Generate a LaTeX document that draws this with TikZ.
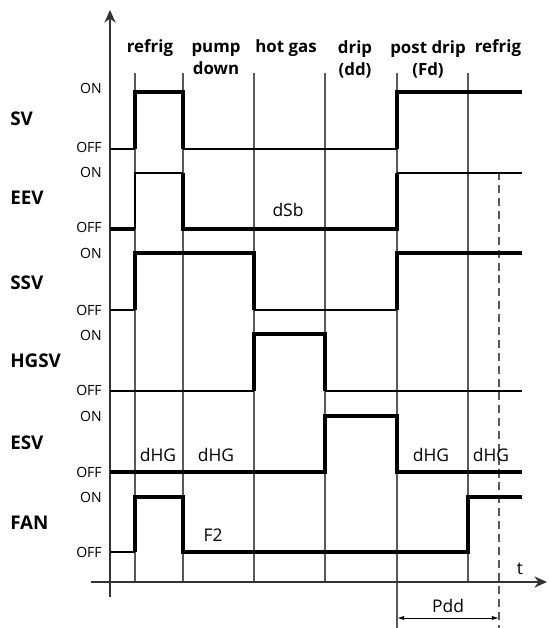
\documentclass[tikz,border=0pt]{standalone}
\usepackage{fontspec}
\setmainfont{Open Sans}
\usetikzlibrary{arrows.meta}

\tikzset{
	siglo/.style={line width=1.3pt},
	sighi/.style={line width=2.2pt},
	phase/.style={line width=0.9pt, black!65},
	axis/.style={line width=1pt, black!80},
	signame/.style={anchor=west, inner sep=0pt, font=\fontsize{13.4}{15}\selectfont\bfseries},
	level/.style={anchor=east, inner sep=0pt, font=\fontsize{10}{11}\selectfont},
	hdr/.style={align=center, inner sep=0pt, font=\fontsize{12}{15.6}\selectfont\bfseries},
	annot/.style={inner sep=0pt, font=\fontsize{12.4}{14}\selectfont},
}

\begin{document}
\begin{tikzpicture}[x=0.25mm, y=-0.25mm]

	\useasboundingbox (0,0) rectangle (548,628);

	\draw[phase] (135,73) -- (135,582);
	\draw[phase] (183,73) -- (183,582);
	\draw[phase] (254,73) -- (254,582);
	\draw[phase] (325,73) -- (325,582);
	\draw[phase] (397,73) -- (397,628);
	\draw[phase] (468,73) -- (468,582);
	\draw[phase, dash pattern=on 5.7pt off 3.5pt] (499,172) -- (499,628);

	\draw[axis, -{Stealth[length=9pt, width=8pt]}] (110,597) -- (110,10);
	\draw[axis, -{Stealth[length=9pt, width=8pt]}] (91,582) -- (547,582);

	\draw (150, 48) node (refrigA) [hdr] {refrig};
	\draw (216, 59) node (pumpdown) [hdr] {pump\\down};
	\draw (286, 48) node (hotgas) [hdr] {hot gas};
	\draw (355, 59) node (drip) [hdr] {drip\\(dd)};
	\draw (428, 59) node (postdrip) [hdr] {post drip\\(Fd)};
	\draw (498, 48) node (refrigB) [hdr] {refrig};

	\draw (10, 119) node (sv) [signame] {SV};
	\draw (10, 198) node (eev) [signame] {EEV};
	\draw (10, 283) node (ssv) [signame] {SSV};
	\draw (10, 361) node (hgsv) [signame] {HGSV};
	\draw (10, 443) node (esv) [signame] {ESV};
	\draw (10, 523) node (fan) [signame] {FAN};

	\draw (102, 88) node (svon) [level] {ON};
	\draw (102, 147) node (svoff) [level] {OFF};
	\draw (102, 172) node (eevon) [level] {ON};
	\draw (102, 227) node (eevoff) [level] {OFF};
	\draw (102, 253) node (ssvon) [level] {ON};
	\draw (102, 310) node (ssvoff) [level] {OFF};
	\draw (102, 335) node (hgsvon) [level] {ON};
	\draw (102, 390) node (hgsvoff) [level] {OFF};
	\draw (102, 416) node (esvon) [level] {ON};
	\draw (102, 472) node (esvoff) [level] {OFF};
	\draw (102, 497) node (fanon) [level] {ON};
	\draw (102, 552) node (fanoff) [level] {OFF};

	\draw[siglo] (110,149) -- (135,149);
	\draw[sighi] (135,149) -- (135,92) -- (183,92) -- (183,149);
	\draw[siglo] (183,149) -- (397,149);
	\draw[sighi] (397,149) -- (397,92) -- (522,92);

	\draw[sighi] (110,229) -- (135,229);
	\draw[siglo] (135,229) -- (135,173) -- (183,173);
	\draw[sighi] (183,173) -- (183,229) -- (397,229) -- (397,173);
	\draw[siglo] (397,173) -- (522,173);

	\draw[siglo] (110,310) -- (135,310);
	\draw[sighi] (135,310) -- (135,253) -- (254,253) -- (254,310);
	\draw[siglo] (254,310) -- (397,310);
	\draw[sighi] (397,310) -- (397,253) -- (522,253);

	\draw[siglo] (110,391) -- (254,391);
	\draw[sighi] (254,391) -- (254,334) -- (325,334) -- (325,391);
	\draw[siglo] (325,391) -- (522,391);

	\draw[sighi] (110,472) -- (325,472) -- (325,416) -- (397,416) -- (397,472) -- (522,472);

	\draw[siglo] (110,552) -- (135,552);
	\draw[sighi] (135,552) -- (135,497) -- (183,497) -- (183,552) -- (468,552) -- (468,497) -- (522,497);

	\draw (288, 210) node (dsb) [annot] {dSb};
	\draw (158, 455) node (dhgA) [annot] {dHG};
	\draw (216, 455) node (dhgB) [annot] {dHG};
	\draw (431, 455) node (dhgC) [annot] {dHG};
	\draw (491, 455) node (dhgD) [annot] {dHG};
	\draw (213, 535) node (ftwo) [annot] {F2};
	\draw (520, 569) node (tlab) [annot] {t};
	\draw (448, 606) node (pdd) [annot] {Pdd};

	\coordinate (pddA) at (397,618);
	\coordinate (pddB) at (499,618);
	\draw[line width=0.7pt, {Latex[length=5pt, width=3pt]}-{Latex[length=5pt, width=3pt]}] (pddA) -- (pddB);

\end{tikzpicture}
\end{document}
